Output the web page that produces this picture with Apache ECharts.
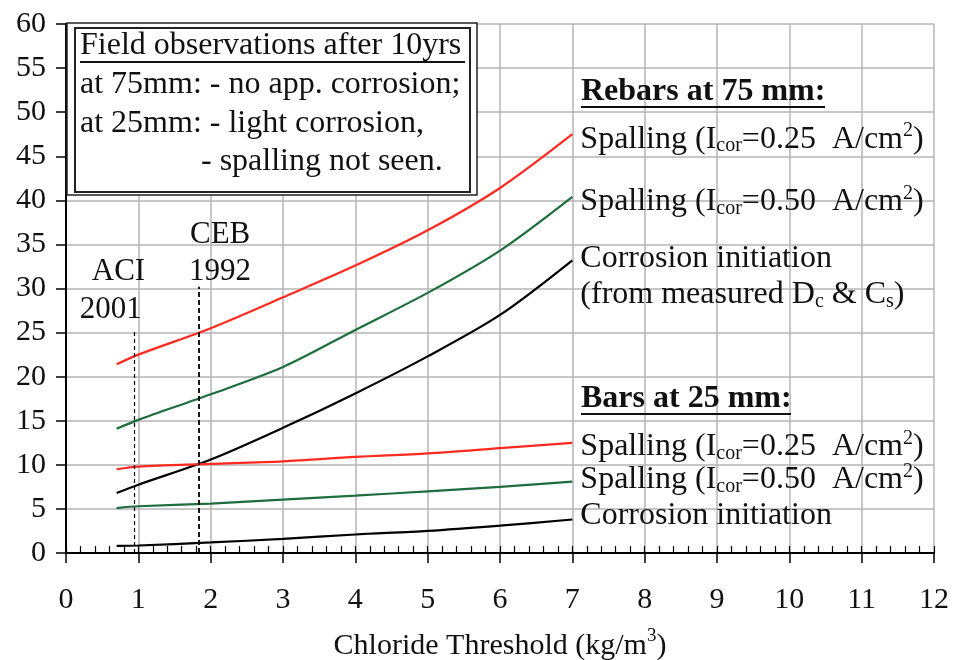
<!DOCTYPE html>
<html>
<head>
<meta charset="utf-8">
<script src="https://cdn.jsdelivr.net/npm/echarts@6/dist/echarts.min.js"></script>
<style>
  html, body { margin: 0; padding: 0; background: #fff; }
  #chart { width: 956px; height: 660px; }
</style>
</head>
<body>
<div id="chart"></div>
<script>
// chloride threshold (kg/m3) where the curves were read
var xVals = [0.7, 1, 2, 3, 4, 5, 6, 7];

// rebars at 75 mm
var spall025At75 = [21.4, 22.5, 25.5, 29.0, 32.6, 36.6, 41.4, 47.5];
var spall050At75 = [14.1, 15.1, 18.0, 21.1, 25.3, 29.5, 34.3, 40.4];
var initAt75 = [6.8, 7.75, 10.6, 14.2, 18.1, 22.3, 27.0, 33.2];

// bars at 25 mm
var spall025At25 = [9.5, 9.8, 10.1, 10.4, 10.9, 11.3, 11.9, 12.5];
var spall050At25 = [5.1, 5.3, 5.6, 6.05, 6.5, 7.0, 7.5, 8.1];
var initAt25 = [0.8, 0.85, 1.2, 1.6, 2.1, 2.5, 3.1, 3.8];

// code thresholds (dashed lines): x, top of line
var aciLine = [0.95, 25.3];
var cebLine = [1.84, 30.2];

var fontFam = 'Liberation Serif';

function pairs(ys) {
    return xVals.map(function (x, i) { return [x, ys[i]]; });
}

var rich = {
    n: { fontFamily: fontFam, fontSize: 32, color: '#111', lineHeight: 36 },
    sub: { fontFamily: fontFam, fontSize: 20, color: '#111', lineHeight: 36, verticalAlign: 'bottom', padding: [0, 0, 1, 0] },
    sup: { fontFamily: fontFam, fontSize: 20, color: '#111', lineHeight: 36, verticalAlign: 'top', padding: [0, 0, 0, 0] }
};

function spallLabel(v) {
    return '{n|Spalling (I}{sub|cor}{n|=' + v + '  A/cm}{sup|2}{n|)}';
}

function lineSeries(name, ys, color, labelText, dy) {
    return {
        name: name,
        type: 'line',
        smooth: 0.3,
        symbol: 'none',
        data: pairs(ys),
        lineStyle: { color: color, width: 2.2 },
        endLabel: {
            show: true,
            formatter: labelText,
            distance: 8,
            offset: [0, dy],
            align: 'left',
            verticalAlign: 'middle',
            rich: rich
        }
    };
}

var chart = echarts.init(document.getElementById('chart'));

var series = [
    lineSeries('s25_75', spall025At75, '#ff2a1f', spallLabel('0.25'), 5),
    lineSeries('s50_75', spall050At75, '#1d6e3c', spallLabel('0.50'), 5),
    lineSeries('init_75', initAt75, '#000', '{n|Corrosion initiation}\n{n|(from measured D}{sub|c}{n| & C}{sub|s}{n|)}', 16),
    lineSeries('s25_25', spall025At25, '#ff2a1f', spallLabel('0.25'), 4),
    lineSeries('s50_25', spall050At25, '#1d6e3c', spallLabel('0.50'), -2),
    lineSeries('init_25', initAt25, '#000', '{n|Corrosion initiation}', -4)
];

// dashed code limits
series.push({
    type: 'line',
    data: [],
    markLine: {
        silent: true,
        symbol: 'none',
        animation: false,
        data: [
            [
                { coord: [aciLine[0], 0], lineStyle: { type: [4, 3], width: 1.2, color: '#000' },
                  label: { show: true, position: 'end', formatter: '  ACI\n2001', offset: [-24, 5], distance: 6,
                           fontFamily: fontFam, fontSize: 31, color: '#111', lineHeight: 38, align: 'center' } },
                { coord: [aciLine[0], aciLine[1]] }
            ],
            [
                { coord: [cebLine[0], 0], lineStyle: { type: [5, 3], width: 1.8, color: '#000' },
                  label: { show: true, position: 'end', formatter: 'CEB\n1992', offset: [21, 8], distance: 4,
                           fontFamily: fontFam, fontSize: 31, color: '#111', lineHeight: 37, align: 'center' } },
                { coord: [cebLine[0], cebLine[1]] }
            ]
        ]
    }
});

chart.setOption({
    animation: false,
    grid: { left: 66, right: 22, top: 24, bottom: 107, outerBoundsMode: 'none', containLabel: false },
    xAxis: [
        {
            type: 'value',
            min: 0,
            max: 12,
            interval: 1,
            name: 'Chloride Threshold (kg/m{sup|3})',
            nameLocation: 'middle',
            nameGap: 78,
            nameTextStyle: {
                fontFamily: fontFam, fontSize: 30, color: '#111',
                rich: {
                    sup: { fontFamily: fontFam, fontSize: 19, color: '#111', verticalAlign: 'top', padding: [-4, 0, 0, 0] }
                }
            },
            axisLine: { lineStyle: { color: '#000', width: 2 } },
            axisTick: { length: 10, lineStyle: { color: '#000', width: 1.5 } },
            axisLabel: { fontFamily: fontFam, fontSize: 30, color: '#111', margin: 32 },
            splitLine: { lineStyle: { color: '#b4b4b4', width: 1.5 } }
        },
        {
            // minor ticks pointing up into the plot
            type: 'value',
            position: 'bottom',
            min: 0,
            max: 12,
            interval: 0.2,
            axisLine: { show: false },
            axisTick: { inside: true, length: 7, lineStyle: { color: '#000', width: 1.2 } },
            axisLabel: { show: false },
            splitLine: { show: false }
        }
    ],
    yAxis: [
        {
            type: 'value',
            min: 0,
            max: 60,
            interval: 5,
            axisLine: { show: true, lineStyle: { color: '#000', width: 2 } },
            axisTick: { show: true, length: 10, lineStyle: { color: '#000', width: 1.5 } },
            axisLabel: { fontFamily: fontFam, fontSize: 30, color: '#111', margin: 20 },
            splitLine: { lineStyle: { color: '#b4b4b4', width: 1.5 } }
        },
        {
            type: 'value',
            position: 'right',
            min: 0,
            max: 60,
            interval: 5,
            axisLine: { show: true, lineStyle: { color: '#000', width: 2 } },
            axisTick: { show: false },
            axisLabel: { show: false },
            splitLine: { show: false }
        }
    ],
    graphic: [
        // field observations box
        { type: 'rect', shape: { x: 67, y: 23, width: 410, height: 172 }, style: { fill: '#fff', stroke: '#222', lineWidth: 1.5 }, z: 10 },
        { type: 'rect', shape: { x: 75, y: 28, width: 395, height: 164 }, style: { fill: '#fff', stroke: '#222', lineWidth: 2 }, z: 11 },
        { type: 'text', left: 80, top: 30, z: 12, style: { text: 'Field observations after 10yrs', fontFamily: fontFam, fontSize: 32, fill: '#111' } },
        { type: 'line', shape: { x1: 80, y1: 62, x2: 465, y2: 62 }, style: { stroke: '#111', lineWidth: 2 }, z: 12 },
        { type: 'text', left: 80, top: 69, z: 12, style: { text: 'at 75mm: - no app. corrosion;', fontFamily: fontFam, fontSize: 32, fill: '#111' } },
        { type: 'text', left: 80, top: 108, z: 12, style: { text: 'at 25mm: - light corrosion,', fontFamily: fontFam, fontSize: 32, fill: '#111' } },
        { type: 'text', left: 201, top: 146, z: 12, style: { text: '- spalling not seen.', fontFamily: fontFam, fontSize: 32, fill: '#111' } },
        // group headers on the right
        { type: 'text', left: 581, top: 76, z: 12, style: { text: 'Rebars at 75 mm:', fontFamily: fontFam, fontWeight: 'bold', fontSize: 32, fill: '#111' } },
        { type: 'line', shape: { x1: 581, y1: 107, x2: 825, y2: 107 }, style: { stroke: '#111', lineWidth: 2 }, z: 12 },
        { type: 'text', left: 581, top: 383, z: 12, style: { text: 'Bars at 25 mm:', fontFamily: fontFam, fontWeight: 'bold', fontSize: 32, fill: '#111' } },
        { type: 'line', shape: { x1: 581, y1: 414, x2: 791, y2: 414 }, style: { stroke: '#111', lineWidth: 2 }, z: 12 }
    ],
    series: series
});
</script>
</body>
</html>
